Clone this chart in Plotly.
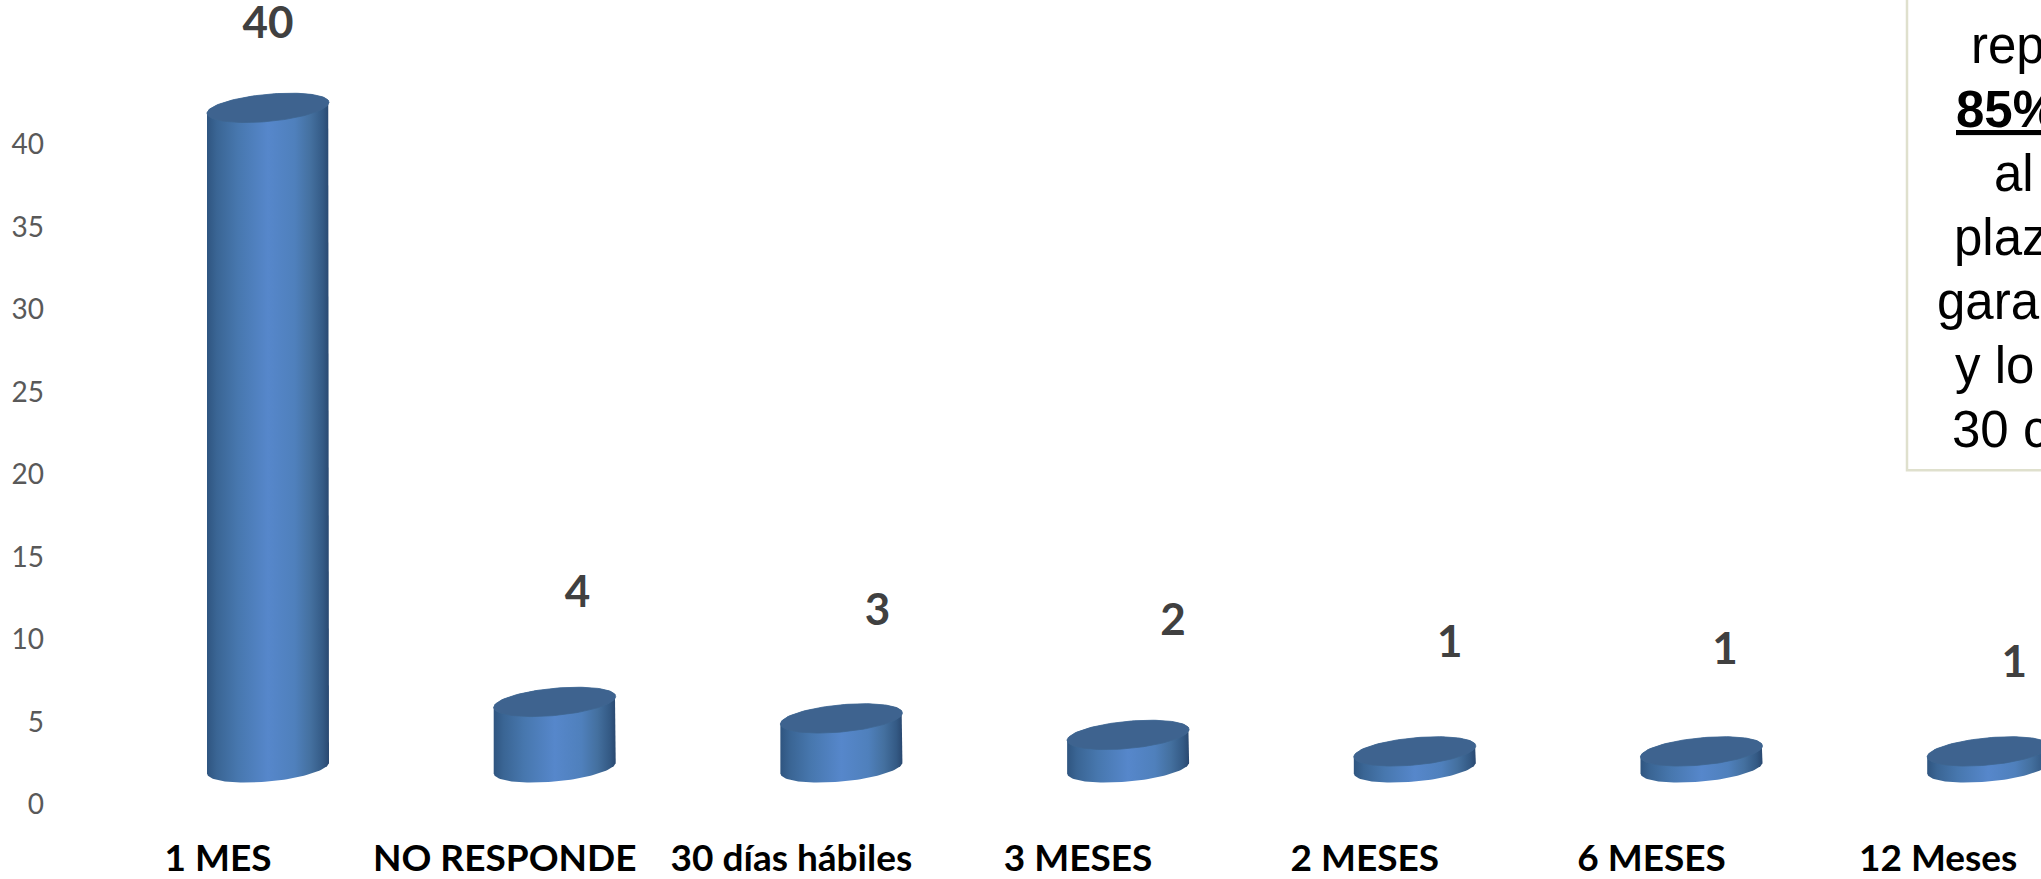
import numpy as np
import plotly.graph_objects as go

categories = ["1 MES", "NO RESPONDE", "30 días hábiles", "3 MESES", "2 MESES", "6 MESES", "12 Meses"]
values = [40, 4, 3, 2, 1, 1, 1]
y_ticks = [0, 5, 10, 15, 20, 25, 30, 35, 40]

# Manual placement of the data labels, relative to each bar top (axis units)
label_dx = [0.0, 0.08, 0.126, 0.157, 0.122, 0.082, 0.091]
label_gap = [4.9, 6.4, 6.3, 6.7, 6.4, 5.95, 5.15]

# Text box lines (clipped by the page edge in the reference)
box_lines = ["rep", "<b><u>85%</u></b>", "al", "plaz", "gara", "y lo", "30 c"]
box_x = [1969, 1954, 1992, 1952, 1935, 1953, 1950]

W, H = 2041, 879
ML, MB = 45, 41
PX_PER_CAT = 286.7
PX_PER_UNIT = 16.6
X0_PX, Y0_PX = 218, 809.5
BASE = 37 / PX_PER_UNIT
OFFSET = 50 / PX_PER_CAT
A = 61 / PX_PER_CAT
B = 13.7 / PX_PER_UNIT
TILT = 5.5 / PX_PER_UNIT

xr = [(ML - X0_PX) / PX_PER_CAT, (W - X0_PX) / PX_PER_CAT]
yr = [(Y0_PX - (H - MB)) / PX_PER_UNIT, Y0_PX / PX_PER_UNIT]

grad = [[0.0, "#2f5580"], [0.08, "#3a6594"], [0.25, "#4777ae"], [0.5, "#5687cb"],
        [0.72, "#4f80bc"], [0.85, "#44709f"], [0.95, "#345a85"], [1.0, "#294870"]]

fig = go.Figure()
theta = np.linspace(0, 2 * np.pi, 121)
lower = np.linspace(np.pi, 0, 61)      # screen-lower half, left to right
upper = np.linspace(0, np.pi, 61)      # back along the upper half of top ellipse

for i, v in enumerate(values):
    cx = i + OFFSET
    top = BASE + v
    xb = cx + A * np.cos(lower)
    yb = BASE - B * np.sin(lower) + TILT * np.cos(lower)
    xt = cx + A * np.cos(upper)
    yt = top + TILT * np.cos(upper) + B * np.sin(upper)
    fig.add_trace(go.Scatter(
        x=np.concatenate([xb, xt]).tolist(), y=np.concatenate([yb, yt]).tolist(),
        mode="lines", line=dict(width=0), fill="toself",
        fillgradient=dict(type="horizontal", colorscale=grad),
        hoverinfo="skip", showlegend=False))
    fig.add_trace(go.Scatter(
        x=(cx + A * np.cos(theta)).tolist(),
        y=(top + B * np.sin(theta) + TILT * np.cos(theta)).tolist(),
        mode="lines", line=dict(width=0.8, color="#3f6690"), fill="toself",
        fillcolor="#3e638f", hoverinfo="skip", showlegend=False))

fig.add_trace(go.Scatter(
    x=[i + OFFSET + d for i, d in enumerate(label_dx)],
    y=[BASE + v + g for v, g in zip(values, label_gap)],
    mode="text", text=["<b>%d</b>" % v for v in values],
    textfont=dict(family="Lato, Carlito, sans-serif", size=44, color="#404040"),
    textposition="middle center", hoverinfo="skip", showlegend=False, cliponaxis=False))

fig.add_shape(type="rect", xref="paper", yref="paper",
              x0=(1907 - ML) / (W - ML), x1=1.02, y0=(H - MB - 473) / (H - MB), y1=1.02,
              line=dict(color="#dfe0cd", width=2.5), fillcolor="white", layer="below")

for n, (txt, px) in enumerate(zip(box_lines, box_x)):
    fig.add_annotation(xref="paper", yref="paper", showarrow=False,
                       x=(px - ML) / (W - ML), y=(H - MB - (46 + 64.4 * n)) / (H - MB),
                       xanchor="left", yanchor="middle", text=txt, align="left",
                       font=dict(family="Liberation Sans, Arial, sans-serif", size=51, color="#000000"))

fig.update_layout(
    width=W, height=H, autosize=False,
    margin=dict(l=ML, r=0, t=0, b=MB),
    paper_bgcolor="white", plot_bgcolor="white", showlegend=False,
    xaxis=dict(range=xr, tickmode="array", tickvals=list(range(len(categories))), ticktext=categories,
               showgrid=False, zeroline=False, showline=False, ticks="",
               tickfont=dict(family="Lato, Carlito, sans-serif", size=37, color="#000000", weight="bold")),
    yaxis=dict(range=yr, tickmode="array", tickvals=y_ticks, showgrid=False, zeroline=False,
               showline=False, ticks="",
               tickfont=dict(family="Lato, Carlito, sans-serif", size=28, color="#595959")),
)
fig.write_html("out.html", config={"displayModeBar": False},
               post_script="document.documentElement.style.overflow='hidden';document.body.style.margin='0';")
